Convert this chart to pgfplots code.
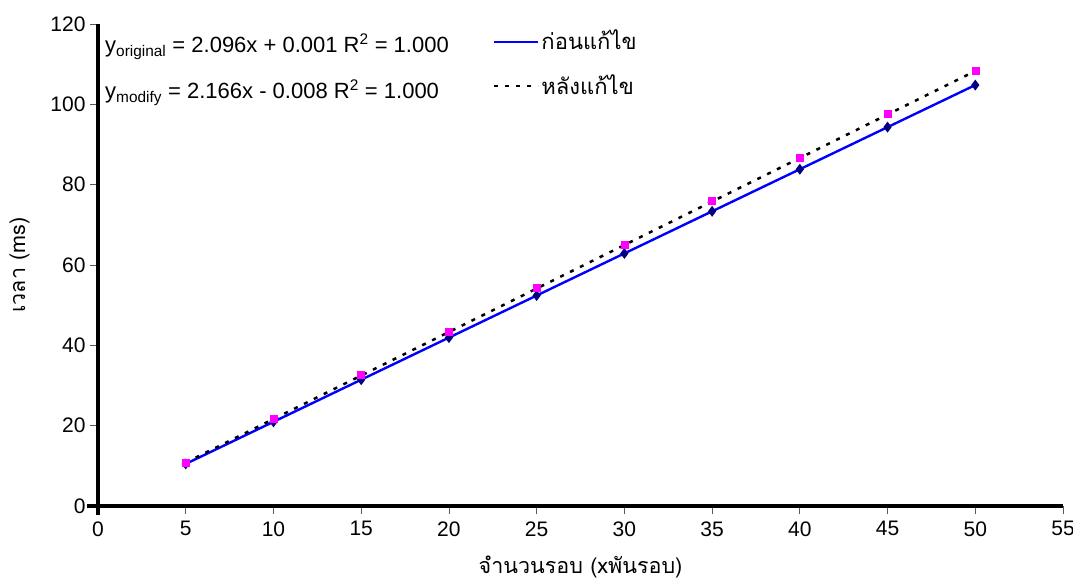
\documentclass[border=0pt]{standalone}
\usepackage{fontspec}
\setmainfont{Liberation Sans}
\newfontfamily\thaifont[Script=Thai]{Loma}
\usepackage{pgfplots}
\pgfplotsset{compat=1.18}
\definecolor{navy}{RGB}{0,0,128}
\definecolor{mag}{RGB}{255,0,255}
\begin{document}
\fontsize{22}{26}\selectfont
\begin{tikzpicture}
\useasboundingbox (-98pt,-81pt) rectangle (975pt,506pt);
\begin{axis}[
  scale only axis,
  width=965pt, height=482pt,
  xmin=0, xmax=55, ymin=0, ymax=120,
  xtick={0,5,...,55}, ytick={0,20,...,120},
  axis x line=bottom, axis y line=left,
  axis line style={draw=none},
  tick align=outside,
  major tick length=8pt,
  tick style={gray!70!black, line width=0.8pt},
  /pgf/number format/assume math mode=true,
  ticklabel style={font=\fontsize{21}{25}\selectfont},
  yticklabel style={xshift=3pt},
  xlabel={\thaifont จำนวนรอบ (xพันรอบ)},
  ylabel={\thaifont เวลา (ms)},
  label style={font=\fontsize{21.5}{25}\selectfont},
  xlabel style={yshift=-5pt},
  ylabel style={yshift=6pt},
  legend style={draw=none, fill=none, at={(axis cs:22.5,119.5)}, anchor=north west,
    row sep=17pt, font=\fontsize{22}{26}\selectfont\thaifont, inner xsep=0pt},
  legend cell align=left,
  legend image code/.code={\draw[#1] (0pt,0pt) -- (44pt,0pt);},
  clip=false,
]
\draw[black, line width=3.2pt] ([xshift=-11pt]rel axis cs:0,0) -- (rel axis cs:1,0);
\draw[black, line width=3.2pt] ([yshift=-9pt]rel axis cs:0,0) -- (rel axis cs:0,1);
\addplot[blue, line width=2.4pt, mark=diamond*, mark size=3.5pt, mark options={navy, solid}, forget plot]
coordinates {(5,10.48)(10,20.96)(15,31.44)(20,41.92)(25,52.40)(30,62.88)(35,73.36)(40,83.84)(45,94.32)(50,104.80)};
\addplot[only marks, mark=square*, mark size=3.5pt, mag, forget plot]
coordinates {(5,10.9)(10,21.7)(15,32.6)(20,43.4)(25,54.3)(30,65.1)(35,76.0)(40,86.8)(45,97.6)(50,108.3)};
\addplot[black, line width=2.5pt, dash pattern=on 4pt off 7pt, forget plot]
coordinates {(5,10.82)(50,108.29)};
\addlegendimage{blue, line width=2.4pt}
\addlegendentry{ก่อนแก้ไข}
\addlegendimage{black, line width=2.5pt, dash pattern=on 4pt off 7pt}
\addlegendentry{หลังแก้ไข}
\node[anchor=west, inner sep=0pt] at (axis cs:0.4,114.3) {y\textsubscript{original} = 2.096x + 0.001 R\textsuperscript{2} = 1.000};
\node[anchor=west, inner sep=0pt] at (axis cs:0.4,102.9) {y\textsubscript{modify} = 2.166x - 0.008 R\textsuperscript{2} = 1.000};
\end{axis}
\end{tikzpicture}
\end{document}
